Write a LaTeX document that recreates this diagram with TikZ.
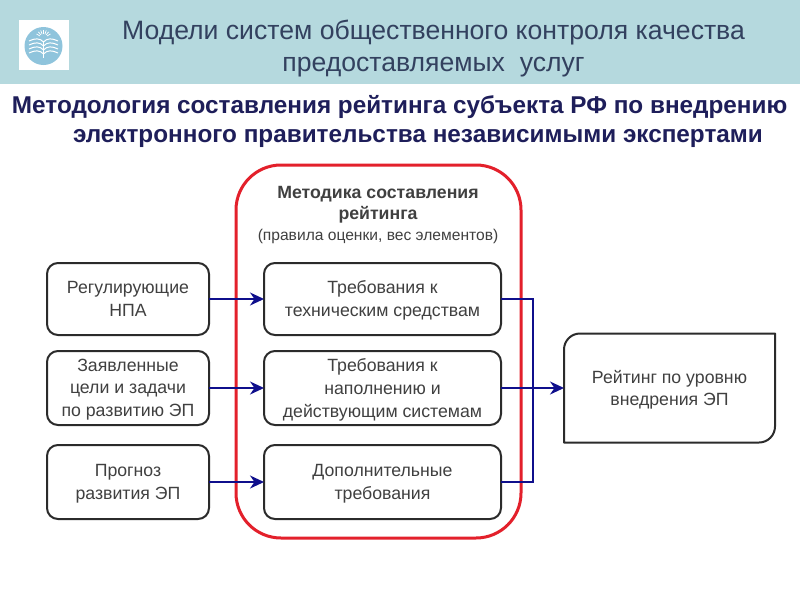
\documentclass[tikz,border=0pt]{standalone}
\usepackage{fontspec}
\setmainfont{Liberation Sans}
\definecolor{headbg}{HTML}{B5D9DE}
\definecolor{titlec}{HTML}{33415F}
\definecolor{subc}{HTML}{1E1E5A}
\definecolor{textc}{HTML}{404040}
\definecolor{linec}{HTML}{2B2B2B}
\definecolor{redc}{HTML}{E3202B}
\definecolor{bluec}{HTML}{0F0F8C}
\definecolor{logoc}{HTML}{8FC4DC}
\usetikzlibrary{arrows.meta}
\tikzset{
  every node/.style={inner sep=0pt,outer sep=0pt},
  box/.style={draw=linec,line width=2pt,rounded corners=11pt,minimum width=#1,align=center,
    text=textc,text depth=0.5pt,font=\fontsize{17.7}{22.8}\selectfont},
  leftbox/.style={box=162pt},
  midbox/.style={box=237pt},
  conn/.style={draw=bluec,line width=2pt},
  arr/.style={conn,-{Stealth[length=14pt,width=13pt,inset=4.5pt]}},
  titletext/.style={text=titlec,align=center,font=\fontsize{26.6}{32}\selectfont},
  subtext/.style={text=subc,anchor=west,font=\bfseries\fontsize{24.3}{28}\selectfont},
}
\begin{document}
\begin{tikzpicture}[x=1pt,y=-1pt]
\useasboundingbox (0,0) rectangle (800,600);
\fill[white] (0,0) rectangle (800,600);
\fill[headbg] (0,0) rectangle (800,84);
% logo
\fill[white] (19,20) rectangle (69,70);
\fill[logoc] (43.5,46) circle (19);
\foreach \yy in {41,45,49,53}{
  \draw[white,line width=1pt] (29,\yy) .. controls (35,\yy-3) and (40,\yy-3) .. (43.5,\yy+1)
     .. controls (47,\yy-3) and (52,\yy-3) .. (58,\yy);
}
\draw[white,line width=1pt] (43.5,42) -- (43.5,58);
\foreach \aa in {30,50,70,90,110,130,150}{
  \draw[white,line width=0.7pt] (43.5,38) ++(-\aa:4) -- ++(-\aa:4);
}
\node[titletext] (title) at (433.5,48.5) {Модели систем общественного контроля качества\\предоставляемых\ \ услуг};
\node[subtext] (sub1) at (12,106.5) {Методология составления рейтинга субъекта РФ по внедрению};
\node[subtext] (sub2) at (73,138) {электронного правительства независимыми экспертами};
% red frame
\draw[redc,line width=3pt,rounded corners=45pt] (236,165) rectangle (521,538);
\node[align=center,text=textc,font=\fontsize{17.7}{21}\selectfont] (head) at (378,215) {\bfseries Методика составления\\\bfseries рейтинга\\\fontsize{15.6}{19}\selectfont\mdseries (правила оценки, вес элементов)};
% left
\node[leftbox,minimum height=72pt] (a) at (128,299) {Регулирующие\\НПА};
\node[leftbox,minimum height=74pt] (b) at (128,388) {Заявленные\\цели и задачи\\по развитию ЭП};
\node[leftbox,minimum height=74pt] (c) at (128,482) {Прогноз\\развития ЭП};
% middle
\node[midbox,minimum height=72pt] (d) at (382.5,299) {Требования к\\техническим средствам};
\node[midbox,minimum height=74pt] (e) at (382.5,388) {Требования к\\наполнению и\\действующим системам};
\node[midbox,minimum height=74pt] (f) at (382.5,482) {Дополнительные\\требования};
% output
\node[align=center,text=textc,text depth=0.5pt,font=\fontsize{17.7}{22}\selectfont,minimum width=211pt,minimum height=109pt] (g) at (669.5,388) {Рейтинг по уровню\\внедрения ЭП};
\draw[linec,line width=2pt,line join=round]
  (g.west) [rounded corners=16pt] -- (g.north west)
  [sharp corners] -- (g.north east) -- (g.east)
  [rounded corners=16pt] -- (g.south east)
  [sharp corners] -- (g.south west) -- cycle;
% connectors
\draw[arr] (a.east) -- (d.west);
\draw[arr] (b.east) -- (e.west);
\draw[arr] (c.east) -- (f.west);
\coordinate (jt) at (533,299);
\coordinate (jb) at (533,482);
\draw[conn] (d.east) -- (jt) -- (jb) -- (f.east);
\draw[arr] (e.east) -- (g.west);
\end{tikzpicture}
\end{document}
